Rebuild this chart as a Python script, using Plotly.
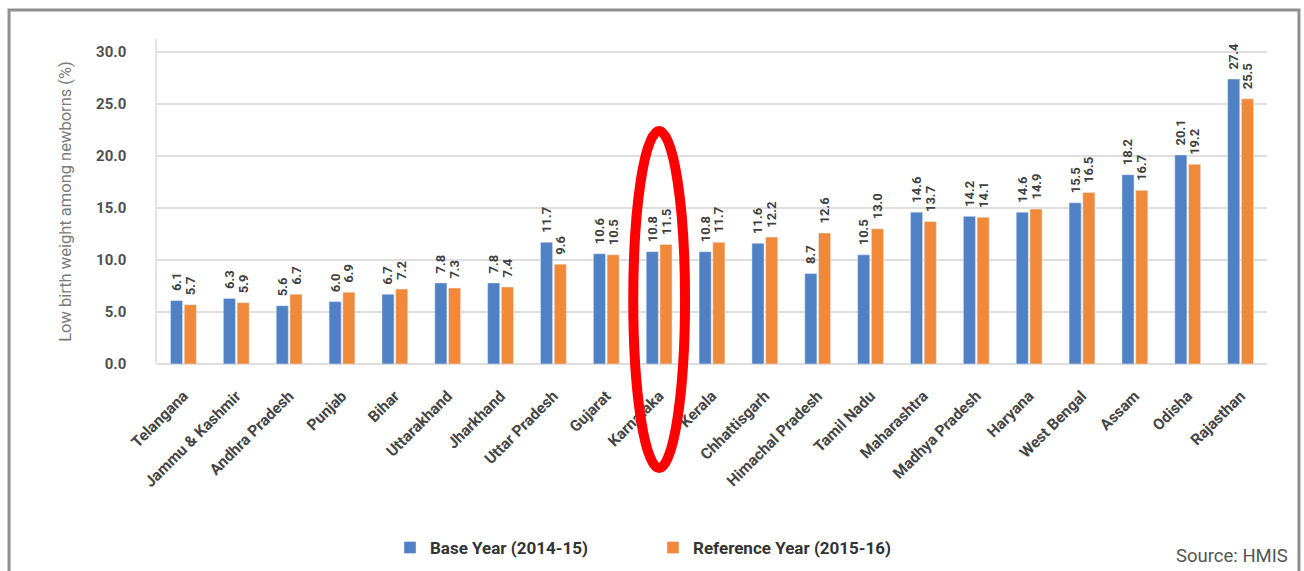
import plotly.graph_objects as go

states = ["Telangana", "Jammu & Kashmir", "Andhra Pradesh", "Punjab", "Bihar",
          "Uttarakhand", "Jharkhand", "Uttar Pradesh", "Gujarat", "Karnataka",
          "Kerala", "Chhattisgarh", "Himachal Pradesh", "Tamil Nadu", "Maharashtra",
          "Madhya Pradesh", "Haryana", "West Bengal", "Assam", "Odisha", "Rajasthan"]
base_year = [6.1, 6.3, 5.6, 6.0, 6.7, 7.8, 7.8, 11.7, 10.6, 10.8, 10.8, 11.6,
             8.7, 10.5, 14.6, 14.2, 14.6, 15.5, 18.2, 20.1, 27.4]
reference_year = [5.7, 5.9, 6.7, 6.9, 7.2, 7.3, 7.4, 9.6, 10.5, 11.5, 11.7, 12.2,
                  12.6, 13.0, 13.7, 14.1, 14.9, 16.5, 16.7, 19.2, 25.5]
y_ticks = [0, 5, 10, 15, 20, 25, 30]
highlight = "Karnataka"

FONT = "Roboto, sans-serif"
BLUE = "#4f81c4"
ORANGE = "#f08a3a"
TXT = "#404040"

label_font = dict(family=FONT, size=13, color=TXT, weight="bold")
PAD = "\u00a0\u00a0"

fig = go.Figure()
fig.add_trace(go.Bar(
    x=states, y=base_year, name="Base Year (2014-15)", marker_color=BLUE,
    texttemplate=PAD + "%{y:.1f}", textposition="outside", textangle=-90,
    constraintext="none", textfont=label_font, cliponaxis=False))
fig.add_trace(go.Bar(
    x=states, y=reference_year, name="Reference Year (2015-16)", marker_color=ORANGE,
    texttemplate=PAD + "%{y:.1f}", textposition="outside", textangle=-90,
    constraintext="none", textfont=label_font, cliponaxis=False))

n = len(states)
idx = states.index(highlight)

fig.update_layout(
    width=1304, height=571,
    margin=dict(l=157, r=37, t=39, b=207, autoexpand=False),
    paper_bgcolor="white", plot_bgcolor="white",
    barmode="group", bargap=0.48, bargroupgap=0.12,
    font=dict(family=FONT, color=TXT),
    showlegend=True,
    legend=dict(orientation="h", x=0.2099, xanchor="left", y=-0.566, yanchor="middle",
                font=dict(family=FONT, size=17, color="#333333", weight="bold"),
                itemwidth=30, entrywidth=218, traceorder="normal"),
    xaxis=dict(tickangle=-45, automargin=False,
               tickfont=dict(family=FONT, size=15.5, color="#454545", weight="bold"),
               showline=False, showgrid=False, ticklabelstandoff=19,
               range=[-0.5, n - 0.5]),
    yaxis=dict(range=[0, 31.25], tickvals=y_ticks, tickformat=".1f", automargin=False,
               tickfont=dict(family=FONT, size=15, color="#505050", weight="bold"),
               showgrid=True, gridcolor="#dedede", gridwidth=1.5,
               zeroline=True, zerolinecolor="#dedede", zerolinewidth=1.5,
               showline=True, linecolor="#e3e3e3", linewidth=1.5,
               ticklabelstandoff=26,
               title=dict(text="Low birth weight among newborns (%)",
                          font=dict(family=FONT, size=16.5, color="#7a7a7a"),
                          standoff=20)),
    annotations=[dict(text="Source: HMIS", xref="paper", yref="paper",
                      x=1.0207, y=-0.59, xanchor="right", yanchor="middle",
                      showarrow=False,
                      font=dict(family=FONT, size=18.5, color="#555555"))],
    shapes=[
        dict(type="rect", xref="paper", yref="paper",
             x0=-0.1333, x1=1.0288, y0=-0.7, y1=1.089,
             line=dict(color="#8f8f8f", width=3), fillcolor="rgba(0,0,0,0)", layer="below"),
        dict(type="circle", xref="paper", yref="paper",
             x0=(idx + 0.5 - 0.49) / n, x1=(idx + 0.5 + 0.49) / n,
             y0=-0.32, y1=0.717,
             line=dict(color="#ff0000", width=10), fillcolor="rgba(0,0,0,0)", layer="above"),
    ],
)

fig.write_html("out.html")
